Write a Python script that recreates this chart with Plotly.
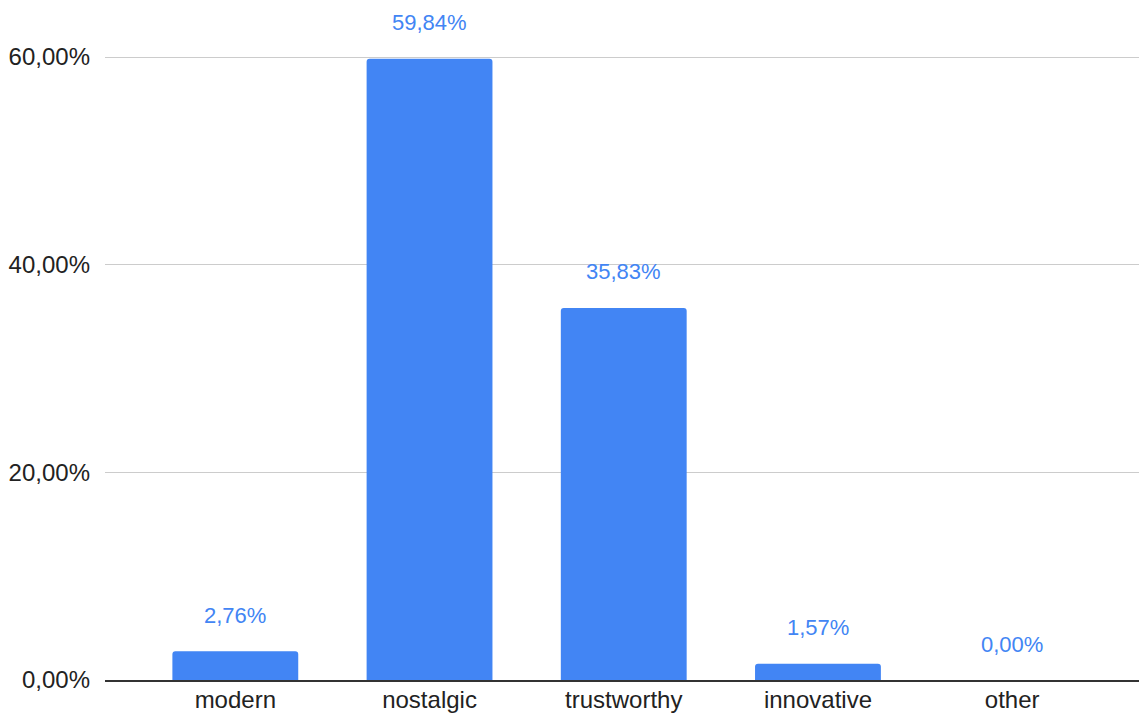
import plotly.graph_objects as go

categories = ["modern", "nostalgic", "trustworthy", "innovative", "other"]
values = [2.76, 59.84, 35.83, 1.57, 0.00]
labels = ["2,76%", "59,84%", "35,83%", "1,57%", "0,00%"]
y_ticks = [0, 20, 40, 60]
y_ticklabels = ["0,00%", "20,00%", "40,00%", "60,00%"]

BLUE = "#4285F4"
FONT = "Arial, Liberation Sans, sans-serif"

fig = go.Figure()
fig.add_trace(go.Bar(
    x=list(range(len(categories))),
    y=values,
    marker=dict(color=BLUE, line=dict(width=0), cornerradius=3),
    width=0.648,
    hoverinfo="skip",
))

for i, (v, lab) in enumerate(zip(values, labels)):
    fig.add_annotation(
        x=i, y=v, text=lab, showarrow=False,
        yanchor="middle", yshift=36,
        font=dict(family=FONT, size=22, color=BLUE),
    )

fig.update_layout(
    width=1139, height=716,
    margin=dict(l=105, r=0, t=10, b=36),
    paper_bgcolor="white", plot_bgcolor="white",
    showlegend=False,
    font=dict(family=FONT, size=24, color="#222222"),
)
fig.update_xaxes(
    range=[-0.671, 4.653],
    automargin=False,
    tickmode="array",
    tickvals=list(range(len(categories))),
    ticktext=categories,
    showgrid=False, zeroline=False,
    showline=True, linecolor="#333333", linewidth=2,
    ticks="", ticklabelstandoff=-3,
    tickfont=dict(family=FONT, size=24, color="#222222"),
)
fig.update_yaxes(
    range=[0, 64.53],
    automargin=False,
    tickmode="array",
    tickvals=y_ticks,
    ticktext=y_ticklabels,
    showgrid=True, gridcolor="#cccccc", gridwidth=1,
    zeroline=False, showline=False,
    ticks="", ticklabelstandoff=14,
    tickfont=dict(family=FONT, size=24, color="#222222"),
)

fig.write_html("out.html")
